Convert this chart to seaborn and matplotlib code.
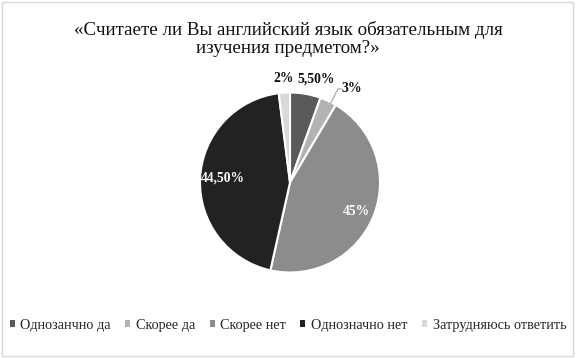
import numpy as np
import matplotlib
matplotlib.use("Agg")
import matplotlib.pyplot as plt
import seaborn as sns
from matplotlib.patches import Rectangle, Patch

categories = ["Однозанчно да", "Скорее да", "Скорее нет", "Однозначно нет", "Затрудняюсь ответить"]
values = [5.5, 3, 45, 44.5, 2]
labels = ["5,50%", "3%", "45%", "44,50%", "2%"]
title = "«Считаете ли Вы английский язык обязательным для\nизучения предметом?»"

colors = ["#595959", "#b3b3b3", "#8c8c8c", "#222222", "#d9d9d9"]
label_r = [1.19, None, 0.8, 0.75, 1.16]
label_da = [-4, 0, -2, -1, 0]
label_color = ["#111111", "#111111", "white", "white", "#111111"]

sns.set_theme(style="white")
plt.rcParams["font.family"] = ["Liberation Serif", "DejaVu Serif"]

fig = plt.figure(figsize=(5.76, 3.58), dpi=100)
fig.patch.set_facecolor("white")
fig.add_artist(Rectangle((0.004, 0.006), 0.991, 0.988, transform=fig.transFigure,
                         fill=False, edgecolor="#d9d9d9", linewidth=1.0))

ax = fig.add_axes([200 / 576, (358 - 272.5) / 358, 180 / 576, 180 / 358])
wedges, _ = ax.pie(values, colors=colors, startangle=90, counterclock=False,
                   wedgeprops=dict(edgecolor="white", linewidth=1.5))
ax.set_xlim(-1, 1)
ax.set_ylim(-1, 1)
ax.set_aspect("equal")
ax.axis("off")

for i, w in enumerate(wedges):
    mid = (w.theta1 + w.theta2) / 2
    if label_r[i] is None:
        a = np.deg2rad(mid - 2)
        x0, y0 = 0.99 * np.cos(a), 0.99 * np.sin(a)
        x1, y1 = x0 + 0.08, y0 + 0.16
        ax.plot([x0, x1, x1 + 0.04], [y0, y1, y1], color="#a6a6a6", lw=0.8, clip_on=False)
        ax.text(x1 + 0.045, y1, labels[i], ha="left", va="center", fontsize=10,
                fontweight="bold", color=label_color[i])
    else:
        a = np.deg2rad(mid + label_da[i])
        ax.text(label_r[i] * np.cos(a), label_r[i] * np.sin(a), labels[i], ha="center",
                va="center", fontsize=9.8, fontweight="bold", color=label_color[i])

fig.text(0.5, 1 - 39 / 358, title, ha="center", va="center", fontsize=13.7,
         linespacing=1.08, color="#111111")

handles = [Patch(facecolor=c, edgecolor="none") for c in colors]
fig.legend(handles, categories, loc="center", bbox_to_anchor=(0.5, 1 - 325 / 358),
           ncol=5, frameon=False, fontsize=10.3, handlelength=0.35, handleheight=0.35,
           handletextpad=0.4, columnspacing=1.0, borderaxespad=0, borderpad=0)

fig.savefig("out.png", dpi=100)
